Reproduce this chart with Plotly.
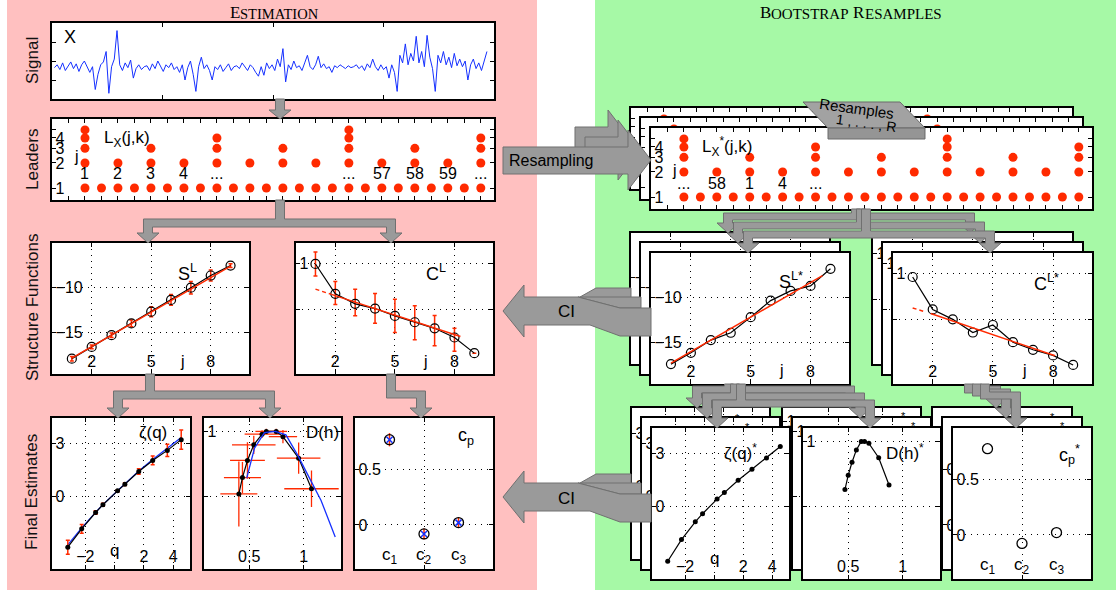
import math
import plotly.graph_objects as go

W, H = 1120, 592
FONT = "Liberation Sans, Arial, Helvetica, sans-serif"
SERIF = "Liberation Serif, Times New Roman, serif"

# ======================= data =======================
signal_values = [
    -0.35, -0.2, -0.45, -0.1, -0.5, -0.25, -0.05, -0.4, -0.15, -0.55,
    -0.2, 0.0, -0.35, -0.6, -0.3, -1.5, -0.7, -0.2, -0.05, 0.5,
    -1.7, -0.3, 0.1, 1.6, -0.2, -0.5, -0.1, -0.35, 0.05, -0.9,
    -0.4, -0.2, -0.45, -0.3, -0.25, -0.5, -0.15, -0.4, 0.0, -0.3,
    -0.55, -0.2, -0.35, -0.1, -0.45, -0.3, -0.6, -0.2, -1.0, -0.35,
    0.0, -0.7, -1.6, -0.3, 0.2, -0.4, -0.2, -0.5, -1.0, -0.3,
    -0.45, -0.2, -0.55, -0.35, -0.15, -0.5, -0.3, -0.25, -0.4, -0.1,
    -0.3, -0.5, -0.2, -0.35, -0.6, -0.8, -0.3, -0.75, -0.1, -0.4,
    -0.2, -0.5, 0.1, -0.3, 0.65, -1.1, -0.2, -0.45, 0.0, -0.35,
    -0.25, -0.5, -0.1, 0.3, -0.3, -0.45, -0.2, 0.25, -0.35, -0.15,
    -0.4, -0.3, -0.6, -0.25, -0.35, -0.2, -0.3, -0.4, -0.25, -0.35,
    -0.3, -0.2, -0.4, -0.25, -0.5, -0.15, -0.35, 0.1, -0.3, -0.5,
    -0.2, -0.45, -0.3, -0.9, -0.2, -0.6, -1.6, 0.3, -0.1, 0.9,
    -0.2, 0.4, 0.0, 1.3, -0.1, 0.5, -0.3, 1.35, 0.2, -0.4,
    -1.6, 0.3, -0.1, 0.5, -0.2, 0.2, -0.35, 0.4, -0.25, 0.1,
    -0.3, 0.0, -1.0, -0.2, 0.1, -0.4, -0.1, -0.5, 0.0, 0.5,
]

# wavelet leaders present at position k for scale j
lead_k_j1 = [1, 2, 3, 4, 5, 6, 7, 8, 9, 10, 11, 12, 13, 14, 15, 16, 17, 18, 19, 20, 21, 22, 23, 24, 25]
lead_k_j2 = [1, 3, 5, 7, 9, 11, 13, 15, 17, 19, 21, 23, 25]
lead_k_j3 = [1, 5, 9, 13, 17, 21, 25]
lead_k_j4 = [1, 9, 17, 25]
lead_k_j5 = [1, 17]
lead_block_labels = ["1", "2", "3", "4", "...", "...", "57", "58", "59", "..."]
lead_block_cols = [1, 3, 5, 7, 9, 17, 19, 21, 23, 25]
boot_block_labels = ["...", "58", "1", "4", "..."]
boot_block_cols = [1, 3, 5, 7, 9]

scales_j = [1, 2, 3, 4, 5, 6, 7, 8, 9]
S_L = [-17.9, -16.6, -15.3, -14.0, -12.7, -11.4, -10.05, -8.7, -7.6]
S_L_err = [0.25, 0.2, 0.25, 0.37, 0.55, 0.6, 0.7, 0.6, 0.2]
S_L_fit_j = [1.0, 9.0]
S_L_fit = [-17.85, -7.65]

C_L = [0.99, 0.665, 0.556, 0.505, 0.425, 0.356, 0.29, 0.19, 0.02]
C_L_err_up = [0.13, 0.135, 0.16, 0.165, 0.18, 0.18, 0.14, 0.10, 0.0]
C_L_err_dn = [0.13, 0.115, 0.13, 0.16, 0.18, 0.19, 0.19, 0.15, 0.0]
C_L_fit_dash_j = [1.0, 1.8]
C_L_fit_dash = [0.716, 0.659]
C_L_fit_j = [1.8, 8.3]
C_L_fit = [0.659, 0.20]

q_vals = [-3.2, -2.25, -1.3, -0.8, 0.2, 0.7, 1.65, 2.6, 3.6, 4.55]
zeta = [-2.88, -1.84, -0.91, -0.47, 0.32, 0.70, 1.42, 2.05, 2.62, 3.23]
zeta_err = [0.4, 0.25, 0.1, 0.08, 0.05, 0.08, 0.15, 0.25, 0.35, 0.55]
zeta_blue = [-2.75, -1.78, -0.9, -0.46, 0.33, 0.72, 1.45, 2.1, 2.72, 3.35]

h_vals = [0.405, 0.438, 0.484, 0.542, 0.618, 0.657, 0.748, 0.81, 0.954, 1.072]
D_vals = [0.52, 0.646, 0.777, 0.897, 0.979, 1.0, 1.0, 0.96, 0.795, 0.56]
h_err = [0.17, 0.17, 0.16, 0.2, 0.16, 0.1, 0.1, 0.13, 0.2, 0.25]
D_err = [0.25, 0.12, 0.14, 0.07, 0.03, 0.02, 0.02, 0.05, 0.12, 0.14]
h_blue = [0.477, 0.549, 0.64, 0.74, 0.837, 0.95, 1.03, 1.16, 1.29]
D_blue = [0.641, 0.872, 0.99, 1.0, 0.974, 0.81, 0.68, 0.47, 0.19]

cp_idx = [1, 2, 3]
cp_names = ["c<sub>1</sub>", "c<sub>2</sub>", "c<sub>3</sub>"]
cp_vals = [0.773, -0.082, 0.021]
cp_err = [0.06, 0.05, 0.05]

# one bootstrap resample
S_Lb = [-17.4, -16.15, -14.74, -13.93, -12.2, -10.37, -9.3, -8.74, -6.85]
S_Lb_fit_j = [1.0, 8.6]
S_Lb_fit = [-17.3, -7.6]
C_Lb = [0.957, 0.604, 0.496, 0.353, 0.435, 0.248, 0.165, 0.104, 0.0]
C_Lb_fit_dash_j = [1.0, 1.6]
C_Lb_fit_dash = [0.62, 0.58]
C_Lb_fit_j = [1.9, 8.1]
C_Lb_fit = [0.56, 0.10]
zeta_b = [-3.11, -1.88, -0.87, -0.41, 0.42, 0.79, 1.49, 2.12, 2.76, 3.41]
h_b = [0.47, 0.50, 0.535, 0.575, 0.62, 0.65, 0.69, 0.78, 0.875]
D_b = [0.63, 0.74, 0.84, 0.935, 1.0, 1.0, 0.985, 0.875, 0.665]
cp_b = [0.782, -0.077, 0.021]

# ======================= styling =======================
RED = "#ff2a00"
BLUE = "#1530ff"
ARROW_FILL = "#9a9a9a"
ARROW_LINE = "#707070"
PINK = "#ffc0c0"
GREEN = "#a6f9a6"

fig = go.Figure()
layout_axes = {}
annotations = []
shapes = []


def dom(box, off):
    L, T, R, B = box
    return [(L - off) / W, (R - off) / W], [1 - (B - off) / H, 1 - (T - off) / H]


def ax_style(rng, tickvals=None, ticktext=None, grid=False, labels=True, size=16, atype="linear"):
    d = dict(range=rng, type=atype, showline=True, linecolor="black", linewidth=1.6,
             mirror="ticks", ticks="inside", ticklen=4, tickwidth=1, tickcolor="black",
             zeroline=False, fixedrange=True, showgrid=grid, gridcolor="black",
             griddash="1px,5px", gridwidth=1, showticklabels=labels,
             ticklabelposition="inside",
             tickfont=dict(family=FONT, size=size, color="black"))
    if tickvals is not None:
        d["tickmode"] = "array"
        d["tickvals"] = tickvals
        if ticktext is not None:
            d["ticktext"] = ticktext
    return d


def set_axes(n, box, off, xd, yd):
    xdom, ydom = dom(box, off)
    layout_axes["xaxis%d" % n] = dict(xd, domain=xdom, anchor="y%d" % n)
    layout_axes["yaxis%d" % n] = dict(yd, domain=ydom, anchor="x%d" % n)


def ref(n):
    return dict(xaxis="x%d" % n, yaxis="y%d" % n, showlegend=False, hoverinfo="skip")


# axis ranges
SIG_X = [-0.9, 161.6]
LEAD_X = [-1.0, 25.8]
LEAD_Y = [math.log10(0.717), math.log10(6.77)]
S_X = [0.0, 9.93]
S_Y = [-19.6, -5.1]
C_X = [0.02, 9.94]
C_Y = [-0.207, 1.218]
Z_X = [-4.28, 5.15]
Z_Y = [-4.12, 4.46]
D_X = [0.085, 1.343]
D_Y = [-0.056, 1.103]
P_X = [0, 4]
P_Y = [-0.4, 0.97]


def axes_for(key, labels=True):
    if key == "sig":
        return (ax_style(SIG_X, tickvals=[SIG_X[0] + (SIG_X[1] - SIG_X[0]) * f for f in (0.25, 0.5, 0.75)], labels=False),
                ax_style([-2, 2], tickvals=[-1, 0, 1], labels=False))
    if key == "lead":
        return (ax_style(LEAD_X, tickvals=list(range(0, 26)), labels=False),
                ax_style(LEAD_Y, tickvals=[1, 2, 3, 4, 5], ticktext=["1", "2", "3", "4", ""], atype="log",
                         labels=labels))
    if key == "S":
        return (ax_style(S_X, tickvals=[2, 5, 8], grid=True),
                ax_style(S_Y, tickvals=[-15, -10], ticktext=["\u221215", "\u221210"], grid=True))
    if key == "C":
        return (ax_style(C_X, tickvals=[2, 5, 8], grid=True),
                ax_style(C_Y, tickvals=[0, 0.5, 1], ticktext=["0", "", "1"], grid=True))
    if key == "Z":
        return (ax_style(Z_X, tickvals=[-2, 0, 2, 4], ticktext=["\u22122", "", "2", "4"], grid=True),
                ax_style(Z_Y, tickvals=[-3, 0, 3], ticktext=["", "0", "3"], grid=True))
    if key == "D":
        return (ax_style(D_X, tickvals=[0.5, 1], ticktext=["0.5", "1"], grid=True),
                ax_style(D_Y, tickvals=[0, 0.5, 1], ticktext=["0", "", "1"], grid=True))
    return (ax_style(P_X, tickvals=[2], ticktext=[""], grid=True),
            ax_style(P_Y, tickvals=[0, 0.5], ticktext=["0", "0.5"], grid=True))


# ---------------- trace builders ----------------
def draw_signal(n):
    fig.add_trace(go.Scatter(x=list(range(len(signal_values))), y=signal_values, mode="lines",
                             line=dict(color=BLUE, width=1), **ref(n)))


def draw_leaders(n):
    for j, ks in ((1, lead_k_j1), (2, lead_k_j2), (3, lead_k_j3), (4, lead_k_j4), (5, lead_k_j5)):
        fig.add_trace(go.Scatter(x=ks, y=[j] * len(ks), mode="markers",
                                 marker=dict(color=RED, size=9), **ref(n)))


def draw_S(n, vals, fitx, fity, err=None):
    fig.add_trace(go.Scatter(x=scales_j, y=vals, mode="lines+markers",
                             line=dict(color="black", width=1.2),
                             marker=dict(symbol="circle-open", size=9, color="black", line=dict(width=1.2)),
                             error_y=(dict(type="data", array=err, color=RED, thickness=1.5, width=2)
                                      if err else dict(visible=False)),
                             **ref(n)))
    fig.add_trace(go.Scatter(x=fitx, y=fity, mode="lines", line=dict(color=RED, width=1.5), **ref(n)))


def draw_C(n, vals, dx, dy, fx, fy, eu=None, ed=None):
    fig.add_trace(go.Scatter(x=scales_j, y=vals, mode="lines+markers",
                             line=dict(color="black", width=1.2),
                             marker=dict(symbol="circle-open", size=9, color="black", line=dict(width=1.2)),
                             error_y=(dict(type="data", array=eu, arrayminus=ed, color=RED, thickness=1.5, width=2)
                                      if eu else dict(visible=False)),
                             **ref(n)))
    fig.add_trace(go.Scatter(x=dx, y=dy, mode="lines", line=dict(color=RED, width=1.5, dash="4px,3px"), **ref(n)))
    fig.add_trace(go.Scatter(x=fx, y=fy, mode="lines", line=dict(color=RED, width=1.5), **ref(n)))


def draw_Z(n, vals, err=None, blue=None):
    if blue:
        fig.add_trace(go.Scatter(x=q_vals, y=blue, mode="lines", line=dict(color=BLUE, width=1.3), **ref(n)))
    fig.add_trace(go.Scatter(x=q_vals, y=vals, mode="lines+markers",
                             line=dict(color="black", width=1.2),
                             marker=dict(color="black", size=5),
                             error_y=(dict(type="data", array=err, color=RED, thickness=1.5, width=2)
                                      if err else dict(visible=False)),
                             **ref(n)))


def draw_D(n, hv, dv, he=None, de=None, hb=None, db=None):
    fig.add_trace(go.Scatter(x=hv, y=dv, mode="lines+markers",
                             line=dict(color="black", width=1.2),
                             marker=dict(color="black", size=5),
                             error_x=(dict(type="data", array=he, color=RED, thickness=1.3, width=0)
                                      if he else dict(visible=False)),
                             error_y=(dict(type="data", array=de, color=RED, thickness=1.3, width=0)
                                      if de else dict(visible=False)),
                             **ref(n)))
    if hb:
        fig.add_trace(go.Scatter(x=hb, y=db, mode="lines", line=dict(color=BLUE, width=1.3), **ref(n)))


def draw_P(n, vals, err=None, cross=False):
    fig.add_trace(go.Scatter(x=cp_idx, y=vals, mode="markers",
                             marker=dict(symbol="circle-open", size=10, color="black", line=dict(width=1.3)),
                             error_y=(dict(type="data", array=err, color=RED, thickness=1.5, width=0)
                                      if err else dict(visible=False)),
                             **ref(n)))
    if cross:
        fig.add_trace(go.Scatter(x=cp_idx, y=vals, mode="markers",
                                 marker=dict(symbol="x-thin-open", size=6, color=BLUE, line=dict(width=1.5, color=BLUE)),
                                 **ref(n)))


# ---------------- boxes (pixel boxes L, T, R, B) ----------------
BOX = {
    "sig": (52, 23, 494, 99),
    "lead": (52, 119, 494, 200),
    "S": (52, 243, 249, 374),
    "C": (296, 243, 493, 374),
    "Z": (52, 418, 190, 569),
    "D": (204, 418, 341, 569),
    "P": (355, 418, 493, 569),
}
BOOT = {
    "lead": (651, 128, 1092, 209),
    "S": (651, 253, 849, 384),
    "C": (893, 253, 1092, 384),
    "Z": (652, 428, 789, 579),
    "D": (803, 428, 940, 579),
    "P": (953, 428, 1091, 579),
}

# dummy full-page subplot (so every other subplot paints its own background)
fig.add_trace(go.Scatter(x=[0.5], y=[0.5], mode="markers", marker=dict(size=1, opacity=0),
                         showlegend=False, hoverinfo="skip"))

n = 2
NUM = {}
for key in ("sig", "lead", "S", "C", "Z", "D", "P"):
    set_axes(n, BOX[key], 0, *axes_for(key))
    NUM[("L", key)] = n
    n += 1
for off in (20, 10, 0):
    for key in ("lead", "S", "C", "Z", "D", "P"):
        set_axes(n, BOOT[key], off, *axes_for(key, labels=(off == 0)))
        NUM[(off, key)] = n
        n += 1

draw_signal(NUM[("L", "sig")])
draw_leaders(NUM[("L", "lead")])
draw_S(NUM[("L", "S")], S_L, S_L_fit_j, S_L_fit, S_L_err)
draw_C(NUM[("L", "C")], C_L, C_L_fit_dash_j, C_L_fit_dash, C_L_fit_j, C_L_fit, C_L_err_up, C_L_err_dn)
draw_Z(NUM[("L", "Z")], zeta, zeta_err, zeta_blue)
draw_D(NUM[("L", "D")], h_vals, D_vals, h_err, D_err, h_blue, D_blue)
draw_P(NUM[("L", "P")], cp_vals, cp_err, cross=True)
for off in (20, 10, 0):
    draw_leaders(NUM[(off, "lead")])
    draw_S(NUM[(off, "S")], S_Lb, S_Lb_fit_j, S_Lb_fit)
    draw_C(NUM[(off, "C")], C_Lb, C_Lb_fit_dash_j, C_Lb_fit_dash, C_Lb_fit_j, C_Lb_fit)
    draw_Z(NUM[(off, "Z")], zeta_b)
    draw_D(NUM[(off, "D")], h_b, D_b)
    draw_P(NUM[(off, "P")], cp_b)


# ---------------- shapes ----------------
def px_path(pts):
    return "M " + " L ".join("%.5f,%.5f" % (x / W, 1 - y / H) for x, y in pts) + " Z"


def poly(pts, fill=ARROW_FILL, line=ARROW_LINE, lw=1, layer="above"):
    shapes.append(dict(type="path", path=px_path(pts), xref="paper", yref="paper",
                       fillcolor=fill, line=dict(color=line, width=lw), layer=layer))


def rect(x0, y0, x1, y1, fill, layer="below"):
    shapes.append(dict(type="rect", xref="paper", yref="paper", x0=x0 / W, x1=x1 / W,
                       y0=1 - y1 / H, y1=1 - y0 / H, fillcolor=fill, line=dict(width=0), layer=layer))


def straight(sx, sy0, tip, w=4.5, h=11, hh=9):
    poly([(sx - w, sy0), (sx - w, tip - hh), (sx - h, tip - hh), (sx, tip), (sx + h, tip - hh),
          (sx + w, tip - hh), (sx + w, sy0)])


def fork(sx, sy0, b0, b1, xl, xr, tip, w=4.5, h=11, hh=10):
    poly([(sx - w, sy0), (sx - w, b0), (xl - w, b0), (xl - w, tip - hh), (xl - h, tip - hh), (xl, tip),
          (xl + h, tip - hh), (xl + w, tip - hh), (xl + w, b1), (xr - w, b1), (xr - w, tip - hh),
          (xr - h, tip - hh), (xr, tip), (xr + h, tip - hh), (xr + w, tip - hh), (xr + w, b0),
          (sx + w, b0), (sx + w, sy0)])


def elbow(sx, sy0, b0, b1, xr, tip, w=4.5, h=11, hh=10):
    poly([(sx - w, sy0), (sx - w, b1), (xr - w, b1), (xr - w, tip - hh), (xr - h, tip - hh), (xr, tip),
          (xr + h, tip - hh), (xr + w, tip - hh), (xr + w, b0), (sx + w, b0), (sx + w, sy0)])


rect(7, 0, 537, 590, PINK)
rect(595, 0, 1116, 590, GREEN)

# estimation arrows
straight(280, 99, 119)
fork(280, 200, 219, 227, 148, 391, 243)
fork(150, 374, 391, 399, 118, 270, 418)
elbow(391, 374, 391, 398, 421, 418)

# bootstrap arrows (three stacked resamples)
for i in (2, 1, 0):
    fork(866 - 5 * i, 209, 231 - 9 * i, 238 - 9 * i, 748 - 10 * i, 990 - 10 * i, 253 - 10 * i)
for i in (2, 1, 0):
    fork(741 - 6 * i, 384, 400 - 7 * i, 407 - 7 * i, 717 - 10 * i, 870 - 10 * i, 428 - 10 * i)
for i in (2, 1, 0):
    elbow(985 - 8 * i, 384, 392 - 3 * i, 399 - 3 * i, 1016 - 10 * i, 428 - 10 * i)

# resampling arrow
poly([(575, 127), (608, 127), (608, 110), (631, 140), (608, 170), (608, 154), (575, 154)])
poly([(585, 137), (618, 137), (618, 120), (641, 150), (618, 180), (618, 164), (585, 164)])
poly([(503, 147), (628, 147), (628, 130), (651, 160), (628, 190), (628, 174), (503, 174)])

# CI arrows
for dy in (0, 186):
    poly([(580, 297 + dy), (596, 288 + dy), (631, 288 + dy), (631, 298 + dy), (580, 298 + dy)])
    poly([(578, 297 + dy), (641, 297 + dy), (641, 308 + dy), (620, 308 + dy)])
    poly([(503, 311 + dy), (524, 285 + dy), (524, 297 + dy), (578, 297 + dy), (620, 308 + dy),
          (651, 308 + dy), (651, 336 + dy), (620, 336 + dy), (590, 325 + dy), (524, 325 + dy),
          (524, 337 + dy)])

# "Resamples 1..R" tab
poly([(803, 102), (900, 102), (925, 128), (828, 128)], fill="#a2a2a2", line="#6a6a6a")
poly([(828, 128), (925, 128), (925, 139), (828, 139)], fill="#959595", line="#6a6a6a")


# ---------------- text ----------------
def txt(x, y, s, size=16, family=FONT, color="black", **kw):
    a = dict(x=x / W, y=1 - y / H, xref="paper", yref="paper", text=s, showarrow=False,
             xanchor="center", yanchor="middle",
             font=dict(family=family, size=size, color=color))
    a.update(kw)
    annotations.append(a)


def small_caps(x_left, y, words, big=17, small=14.5):
    cap_w = {"E": 0.611, "B": 0.667, "R": 0.667}
    rest_w = {"S": 0.556, "T": 0.611, "I": 0.333, "M": 0.889, "A": 0.722, "O": 0.722, "N": 0.722,
              "R": 0.667, "P": 0.556, "L": 0.611, "E": 0.611}
    x = x_left
    for k, (cap, rest) in enumerate(words):
        if k:
            x += 0.3 * small
        annotations.append(dict(x=x / W, y=1 - y / H, xref="paper", yref="paper", text=cap,
                                showarrow=False, xanchor="left", yanchor="bottom",
                                font=dict(family=SERIF, size=big, color="black")))
        x += cap_w[cap] * big
        annotations.append(dict(x=x / W, y=1 - y / H, xref="paper", yref="paper", text=rest,
                                showarrow=False, xanchor="left", yanchor="bottom",
                                font=dict(family=SERIF, size=small, color="black")))
        x += sum(rest_w[c] for c in rest) * small


small_caps(228, 24, [("E", "STIMATION")])
small_caps(758, 24, [("B", "OOTSTRAP"), ("R", "ESAMPLES")], big=17, small=15)

for s, y in (("Signal", 61), ("Leaders", 160), ("Structure Functions", 308), ("Final Estimates", 492)):
    txt(32, y, s, 17, color="#111111", textangle=-90)

# estimation panel texts
txt(70, 37, "X", 18)
txt(127, 139, "L<sub>X</sub>(j,k)", 17)
txt(76, 157, "j", 16)
txt(188, 272, "S<sup>L</sup>", 18)
txt(182, 361, "j", 16)
txt(436, 272, "C<sup>L</sup>", 18)
txt(425, 361, "j", 16)
txt(153, 432, "\u03b6(q)", 17)
txt(114, 550, "q", 17)
txt(322, 432, "D(h)", 17)
txt(466, 436, "c<sub>p</sub>", 18)

nl = NUM[("L", "lead")]
for lab, c in zip(lead_block_labels, lead_block_cols):
    annotations.append(dict(x=c, xref="x%d" % nl, y=1 - 174 / H, yref="paper", text=lab, showarrow=False,
                            xanchor="center", yanchor="middle",
                            font=dict(family=FONT, size=16, color="black")))
nb = NUM[(0, "lead")]
for lab, c in zip(boot_block_labels, boot_block_cols):
    annotations.append(dict(x=c, xref="x%d" % nb, y=1 - 184 / H, yref="paper", text=lab, showarrow=False,
                            xanchor="center", yanchor="middle",
                            font=dict(family=FONT, size=16, color="black")))

for nn, yy in ((NUM[("L", "P")], 556), (NUM[(0, "P")], 566)):
    for name, c in zip(cp_names, cp_idx):
        annotations.append(dict(x=c, xref="x%d" % nn, y=1 - yy / H, yref="paper", text=name,
                                showarrow=False, xanchor="center", yanchor="middle",
                                font=dict(family=FONT, size=17, color="black")))

# bootstrap panel texts
txt(727, 146, "L<sub>X</sub><sup>*</sup>(j,k)", 17)
txt(674, 171, "j", 16)
txt(791, 280, "S<sup>L*</sup>", 18)
txt(781, 370, "j", 16)
txt(1046, 282, "C<sup>L*</sup>", 18)
txt(1024, 370, "j", 16)
txt(740, 452, "\u03b6(q)<sup>*</sup>", 17)
txt(714, 558, "q", 17)
txt(905, 452, "D(h)<sup>*</sup>", 17)
txt(1069, 455, "c<sub>p</sub><sup>*</sup>", 18)
for x, y in ((737, 418), (747, 427), (903, 416), (913, 426), (1052, 417), (1062, 426)):
    txt(x, y, "*", 11)

txt(551, 160, "Resampling", 16)
txt(566, 312, "CI", 17)
txt(566, 498, "CI", 17)
txt(857, 109, "Resamples", 15, textangle=8)
txt(866, 123, "1 , . . . , R", 14, textangle=8)

fig.update_layout(
    width=W, height=H, autosize=False,
    margin=dict(l=0, r=0, t=0, b=0),
    paper_bgcolor="white", plot_bgcolor="white",
    showlegend=False,
    xaxis=dict(domain=[0, 1], range=[0, 1], visible=False, fixedrange=True),
    yaxis=dict(domain=[0, 1], range=[0, 1], visible=False, fixedrange=True),
    shapes=shapes,
    annotations=annotations,
    **layout_axes,
)

fig.write_html("out.html", config={"displayModeBar": False},
               post_script="document.body.style.margin='0px';")
